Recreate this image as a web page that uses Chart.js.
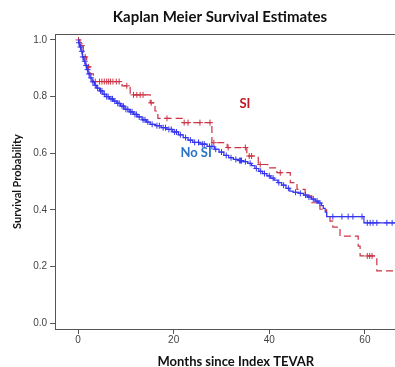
<!DOCTYPE html>
<html lang="en">
<head>
    <meta charset="UTF-8">
    <title>Kaplan Meier Survival Estimates</title>
    <style>
        html, body {
            margin: 0;
            padding: 0;
            background: #fff;
        }

        .chart-box {
            width: 395px;
            height: 367px;
        }
    </style>
</head>
<body>

    <div class="chart-box">
        <canvas id="kmChart"></canvas>
    </div>

    <script src="https://cdn.jsdelivr.net/npm/chart.js"></script>
    <script>
        // Tick values
        const xTicks = [0, 20, 40, 60];
        const yTicks = [0, 0.2, 0.4, 0.6, 0.8, 1.0];
        const xMax = 66.3;

        // SI group: step times (months) and survival after each step
        const siTimes = [0, 0.4, 1.1, 1.8, 2.5, 3.2, 9.2, 10.9, 15.1, 16.1, 16.7, 21.8, 28.0, 31.2,
            35.3, 37.7, 39.7, 41.6, 44.4, 45.8, 47.5, 48.9, 50.6, 52.0, 52.7, 53.3, 54.8, 58.6, 59.0, 62.5];
        const siSurv = [1.0, 0.98, 0.94, 0.905, 0.88, 0.853, 0.838, 0.806, 0.778, 0.749, 0.723, 0.708, 0.637, 0.62,
            0.59, 0.56, 0.548, 0.531, 0.496, 0.472, 0.449, 0.425, 0.402, 0.378, 0.36, 0.339, 0.307, 0.272, 0.237, 0.184];
        const siCensored = [0.1, 0.8, 1.5, 2.2, 3.6, 4.5, 5.0, 5.5, 6.0, 6.4, 6.8, 7.3, 8.0, 8.6, 10.2, 11.6, 12.3,
            13.0, 13.6, 15.3, 18.6, 22.2, 23.0, 25.5, 27.6, 28.4, 31.4, 35.0, 35.8, 36.3, 38.1, 42.3, 60.5, 61.0, 61.5];

        // No SI group
        const noSiTimes = [0, 0.1, 0.3, 0.6, 0.9, 1.2, 1.5, 1.8, 2.1, 2.5, 2.9, 3.4, 3.9, 4.5, 5.2, 5.9, 6.6, 7.4,
            8.1, 8.9, 9.8, 10.7, 11.6, 12.5, 13.4, 14.3, 15.1, 16.2, 17.4, 18.6, 19.8, 21.0, 22.0, 23.0, 24.0,
            25.5, 27.0, 28.5, 29.5, 30.5, 31.5, 32.5, 33.5, 34.5, 35.5, 36.3, 37.0, 37.8, 38.6, 39.5, 40.3, 41.0,
            41.8, 42.6, 43.5, 44.3, 45.0, 46.2, 47.2, 48.0, 48.8, 49.6, 50.3, 50.9, 51.3, 51.7, 52.0, 59.8];
        const noSiSurv = [1.0, 0.99, 0.975, 0.96, 0.94, 0.925, 0.91, 0.895, 0.88, 0.866, 0.852, 0.84, 0.83, 0.82,
            0.808, 0.8, 0.792, 0.784, 0.776, 0.766, 0.755, 0.746, 0.737, 0.728, 0.718, 0.71, 0.702, 0.697, 0.69,
            0.684, 0.675, 0.665, 0.655, 0.646, 0.638, 0.632, 0.624, 0.614, 0.604, 0.592, 0.584, 0.578, 0.574,
            0.57, 0.564, 0.556, 0.546, 0.536, 0.528, 0.52, 0.512, 0.505, 0.496, 0.487, 0.476, 0.466, 0.462,
            0.458, 0.452, 0.445, 0.438, 0.431, 0.424, 0.415, 0.405, 0.392, 0.376, 0.354];
        const noSiCensored = [0.2, 0.5, 0.8, 1.0, 1.4, 1.7, 2.0, 2.3, 2.7, 3.1, 3.6, 4.1, 4.7, 5.0, 5.5, 6.0, 6.3,
            6.9, 7.2, 7.7, 8.3, 8.6, 9.2, 9.5, 10.0, 10.4, 11.0, 11.3, 11.9, 12.2, 12.8, 13.6, 14.0, 14.6, 15.5,
            16.5, 17.0, 17.8, 18.3, 19.0, 19.5, 20.2, 20.6, 21.4, 22.5, 23.5, 24.4, 25.2, 26.0, 26.4, 27.5, 28.0,
            28.8, 30.0, 31.0, 32.0, 33.0, 33.8, 34.0, 34.2, 35.0, 36.0, 37.3, 38.2, 39.0, 40.0, 40.8, 42.0, 43.0,
            44.0, 45.5, 46.5, 47.6, 48.3, 49.2, 50.0, 50.6, 53.3, 55.2, 56.5, 57.5, 59.4, 60.5, 61.1, 61.7, 62.5,
            64.6, 65.7];

        // Group labels placed inside the plot
        const groupLabels = ['SI', 'No SI'];
        const labelX = [34.9, 24.7];
        const labelY = [0.774, 0.601];

        const chartTitle = 'Kaplan Meier Survival Estimates';
        const xTitle = 'Months since Index TEVAR';

        const siColor = '#cc3344';
        const noSiColor = '#3434ee';
        const labelColors = ['#c0161f', '#2a72c6'];

        // step curve points, extended to the right edge
        function stepPoints(times, surv) {
            const pts = times.map((t, i) => ({ x: t, y: surv[i] }));
            pts.push({ x: xMax, y: surv[surv.length - 1] });
            return pts;
        }

        // survival value at time t for censor marks
        function survAt(times, surv, t) {
            let s = surv[0];
            for (let i = 0; i < times.length; i++) {
                if (times[i] <= t) s = surv[i];
            }
            return s;
        }

        function censorPoints(times, surv, cens) {
            return cens.map(t => ({ x: t, y: survAt(times, surv, t) }));
        }

        // top frame line, titles (off-centre like the original) and group labels
        const framePlugin = {
            id: 'frame',
            afterDraw(chart) {
                const { ctx, chartArea, scales } = chart;
                ctx.save();
                ctx.strokeStyle = '#555';
                ctx.lineWidth = 1;
                ctx.beginPath();
                ctx.moveTo(chartArea.left, chartArea.top + 0.5);
                ctx.lineTo(chartArea.right, chartArea.top + 0.5);
                ctx.stroke();

                ctx.textAlign = 'center';
                ctx.textBaseline = 'middle';
                ctx.fillStyle = '#111';
                ctx.font = 'bold 15px Lato';
                ctx.fillText(chartTitle, chart.width * 0.557, chartArea.top - 17);
                ctx.font = 'bold 13px Lato';
                ctx.fillText(xTitle, chart.width * 0.597, chartArea.bottom + 33);

                groupLabels.forEach((txt, i) => {
                    ctx.fillStyle = labelColors[i];
                    ctx.fillText(txt, scales.x.getPixelForValue(labelX[i]), scales.y.getPixelForValue(labelY[i]));
                });
                ctx.restore();
            }
        };

        const tickFont = { family: 'Liberation Sans', size: 10 };

        new Chart(document.getElementById('kmChart'), {
            type: 'scatter',
            data: {
                datasets: [
                    {
                        label: 'No SI',
                        data: stepPoints(noSiTimes, noSiSurv),
                        showLine: true,
                        stepped: 'before',
                        borderColor: noSiColor,
                        borderWidth: 1.2,
                        pointRadius: 0
                    },
                    {
                        label: 'No SI censored',
                        data: censorPoints(noSiTimes, noSiSurv, noSiCensored),
                        pointStyle: 'cross',
                        pointRadius: 3,
                        borderColor: noSiColor,
                        borderWidth: 1
                    },
                    {
                        label: 'SI',
                        data: stepPoints(siTimes, siSurv),
                        showLine: true,
                        stepped: 'before',
                        borderColor: siColor,
                        borderWidth: 1.2,
                        borderDash: [7, 4],
                        pointRadius: 0
                    },
                    {
                        label: 'SI censored',
                        data: censorPoints(siTimes, siSurv, siCensored),
                        pointStyle: 'cross',
                        pointRadius: 3,
                        borderColor: siColor,
                        borderWidth: 1
                    }
                ]
            },
            options: {
                responsive: true,
                maintainAspectRatio: false,
                animation: false,
                layout: {
                    autoPadding: false,
                    padding: { left: 11, right: 0, top: 34, bottom: 21 }
                },
                plugins: {
                    legend: { display: false },
                    tooltip: { enabled: false },
                    title: { display: false }
                },
                scales: {
                    x: {
                        type: 'linear',
                        min: -4.8,
                        max: xMax,
                        afterBuildTicks: axis => { axis.ticks = xTicks.map(v => ({ value: v })); },
                        grid: { drawOnChartArea: false, drawTicks: true, tickLength: 5, color: '#555' },
                        border: { display: true, color: '#555', width: 1 },
                        ticks: { font: tickFont, color: '#444', padding: 0, maxRotation: 0 }
                    },
                    y: {
                        min: -0.021,
                        max: 1.021,
                        afterBuildTicks: axis => { axis.ticks = yTicks.map(v => ({ value: v })); },
                        grid: { drawOnChartArea: false, drawTicks: true, tickLength: 5, color: '#555' },
                        border: { display: true, color: '#555', width: 1 },
                        ticks: {
                            font: tickFont,
                            color: '#444',
                            padding: 3,
                            callback: v => v.toFixed(1)
                        },
                        title: {
                            display: true,
                            text: 'Survival Probability',
                            color: '#111',
                            font: { family: 'Lato', size: 11, weight: 'bold' },
                            padding: { top: 0, bottom: 6 }
                        }
                    }
                }
            },
            plugins: [framePlugin]
        });
    </script>

</body>
</html>
